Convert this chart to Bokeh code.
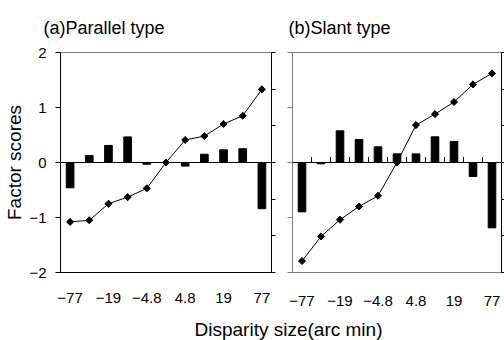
import math
from bokeh.plotting import figure
from bokeh.models import Range1d, LinearAxis, FixedTicker, Label, Span
from bokeh.layouts import row, column
from bokeh.embed import file_html
from bokeh.resources import INLINE

# ---- data ----
x_index = list(range(11))
tick_labels = ["\u221277", "", "\u221219", "", "\u22124.8", "", "4.8", "", "19", "", "77"]

parallel_scores = [-1.08, -1.05, -0.75, -0.63, -0.47, 0.0, 0.41, 0.48, 0.70, 0.85, 1.33]
parallel_bars = [-0.345, 0.094, 0.233, 0.349, -0.023, 0.0, -0.049, 0.113, 0.173, 0.188, -0.63]

slant_scores = [-1.79, -1.345, -1.04, -0.80, -0.605, 0.0, 0.68, 0.88, 1.10, 1.42, 1.62]
slant_bars = [-0.673, -0.018, 0.432, 0.314, 0.214, 0.118, 0.118, 0.35, 0.287, -0.191, -0.891]

score_ticks = [-2, -1, 0, 1, 2]
score_labels = {-2: "\u22122", -1: "\u22121", 0: "0", 1: "1", 2: "2"}
bar_ticks = [-1.5, -1.0, -0.5, 0.0, 0.5, 1.0, 1.5]

titles = ["(a)Parallel type", "(b)Slant type"]
y_title = "Factor scores"
x_title = "Disparity size(arc min)"

FONT = "Liberation Sans"
GRAY = "#808080"


def text_strip(height):
    f = figure(width=504, height=height, output_backend="svg", toolbar_location=None,
               x_axis_location=None, y_axis_location=None,
               min_border_left=0, min_border_right=0, min_border_top=0, min_border_bottom=0,
               outline_line_color=None, background_fill_color="white",
               border_fill_color="white")
    f.grid.visible = False
    f.title.visible = False
    return f


def make_panel(width, height, bl, br, bt, bb, scores, bars, first):
    p = figure(width=width, height=height,
               x_range=Range1d(-0.5, 10.5), y_range=Range1d(-2, 2),
               output_backend="svg", toolbar_location=None,
               min_border_left=bl, min_border_right=br,
               min_border_top=bt, min_border_bottom=bb,
               outline_line_color=GRAY, outline_line_width=1,
               background_fill_color="white", border_fill_color="white")
    p.grid.visible = False
    p.extra_y_ranges = {"bars": Range1d(-1.5, 1.5)}

    # x axis
    xa = p.xaxis[0]
    xa.ticker = FixedTicker(ticks=x_index)
    xa.major_label_overrides = {i: lab for i, lab in zip(x_index, tick_labels)}
    xa.major_tick_out = 0
    xa.major_tick_in = 0
    xa.minor_tick_out = 0
    xa.axis_line_color = "black" if first else GRAY
    xa.major_label_text_font = FONT
    xa.major_label_text_font_size = "15px"
    xa.major_label_text_color = "black"
    xa.major_label_standoff = 20 if first else 23

    # left axis
    ya = p.yaxis[0]
    ya.ticker = FixedTicker(ticks=score_ticks)
    ya.major_tick_out = 5
    ya.major_tick_in = 0
    ya.minor_tick_out = 0
    if first:
        ya.axis_line_color = "black"
        ya.major_tick_line_color = "black"
        ya.major_label_overrides = score_labels
        ya.major_label_text_font = FONT
        ya.major_label_text_font_size = "15px"
        ya.major_label_text_color = "black"
        ya.major_label_standoff = 9
        ya.axis_label = y_title
        ya.axis_label_text_font = FONT
        ya.axis_label_text_font_size = "19px"
        ya.axis_label_text_font_style = "normal"
        ya.axis_label_text_color = "black"
        ya.axis_label_standoff = 1
    else:
        ya.axis_line_color = GRAY
        ya.major_tick_line_color = GRAY
        ya.major_label_overrides = {t: "" for t in score_ticks}
        ya.major_label_standoff = 0

    # right axis for the bars
    ra = LinearAxis(y_range_name="bars", ticker=FixedTicker(ticks=bar_ticks),
                    major_tick_out=4 if first else 3, major_tick_in=0,
                    minor_tick_out=0, axis_line_color="black",
                    major_label_standoff=0)
    ra.major_label_overrides = {t: "" for t in bar_ticks}
    p.add_layout(ra, "right")

    # bars, zero line, score line
    p.vbar(x=x_index, top=bars, width=0.4, y_range_name="bars",
           fill_color="black", line_color="black")
    p.add_layout(Span(location=0, dimension="width", line_color="black", line_width=1))
    if not first:
        bounds = [x + 0.5 for x in x_index[:-1]]
        p.segment(x0=bounds, x1=bounds, y0=[0] * len(bounds), y1=[0.1] * len(bounds),
                  line_color="black", line_width=1)
    p.line(x_index, scores, line_color="black", line_width=1)
    p.scatter(x_index, scores, marker="square", size=5, angle=math.pi / 4,
              fill_color="black", line_color="black")
    return p


# top strip with panel titles
pt = text_strip(42)
for tx, t in zip([43, 288], titles):
    pt.add_layout(Label(x=tx, y=15, x_units="screen", y_units="screen",
                        text=t, text_font=FONT, text_font_size="18px",
                        text_color="black", text_align="left",
                        text_baseline="alphabetic"))

pa = make_panel(281, 272, 60, 10, 8, 39, parallel_scores, parallel_bars, True)
pb = make_panel(223, 272, 11, 3, 10, 42, slant_scores, slant_bars, False)

# bottom strip with the shared x-axis title
pc = text_strip(26)
pc.add_layout(Label(x=288, y=11, x_units="screen", y_units="screen",
                    text=x_title, text_font=FONT, text_font_size="19px",
                    text_color="black", text_align="center", text_baseline="middle"))

layout = column(pt, row(pa, pb, spacing=0), pc, spacing=0)

open("out.html", "w").write(file_html(layout, INLINE))
